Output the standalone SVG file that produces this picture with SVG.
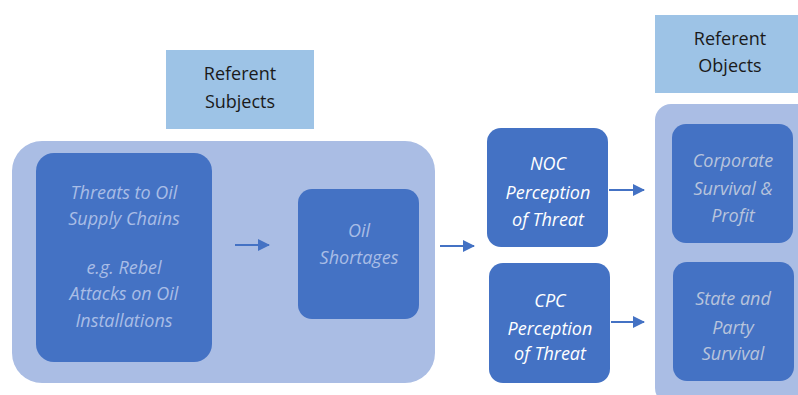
<svg xmlns="http://www.w3.org/2000/svg" width="798" height="395" viewBox="0 0 798 395">
  <defs>
    <marker id="arrow" markerWidth="12" markerHeight="12" refX="11" refY="6" orient="auto" markerUnits="userSpaceOnUse">
      <path d="M0,0 L12,6 L0,12 Z" fill="#4472c4"/>
    </marker>
    <style>
      .label { fill: #9dc3e6; }
      .group { fill: #aabde4; }
      .node { fill: #4472c4; }
      .t { font-family: "Open Sans", "Liberation Sans", sans-serif; font-size: 18px; text-anchor: middle; dominant-baseline: central; }
      .hdr { fill: #1a1a1a; }
      .it { font-style: italic; }
      .pale { fill: #a9bde6; }
      .white { fill: #ffffff; }
      .grey { fill: #b8c4dc; }
      .conn { stroke: #4472c4; stroke-width: 2; fill: none; marker-end: url(#arrow); }
    </style>
  </defs>

  <rect width="798" height="395" fill="#ffffff"/>

  <!-- Header labels -->
  <g id="referent-subjects">
    <rect class="label" x="166" y="50" width="148" height="79"/>
    <text class="t hdr" x="240" y="73">Referent</text>
    <text class="t hdr" x="240" y="101">Subjects</text>
  </g>
  <g id="referent-objects">
    <rect class="label" x="655" y="15" width="150" height="78"/>
    <text class="t hdr" x="730" y="38">Referent</text>
    <text class="t hdr" x="730" y="65">Objects</text>
  </g>

  <!-- Group containers -->
  <g id="subjects-group">
    <rect class="group" x="12" y="141" width="423" height="242" rx="30"/>
  </g>
  <g id="objects-group">
    <rect class="group" x="655" y="104" width="160" height="300" rx="16"/>
  </g>

  <!-- Nodes -->
  <g id="threats">
    <rect class="node" x="36" y="153" width="176" height="209" rx="18"/>
    <text class="t it pale" x="124" y="192">Threats to Oil</text>
    <text class="t it pale" x="124" y="218">Supply Chains</text>
    <text class="t it pale" x="124" y="267">e.g. Rebel</text>
    <text class="t it pale" x="124" y="293">Attacks on Oil</text>
    <text class="t it pale" x="124" y="320">Installations</text>
  </g>
  <g id="oil-shortages">
    <rect class="node" x="298" y="189" width="121" height="130" rx="14"/>
    <text class="t it pale" x="359" y="230">Oil</text>
    <text class="t it pale" x="359" y="257">Shortages</text>
  </g>
  <g id="noc">
    <rect class="node" x="487" y="128" width="121" height="119" rx="14"/>
    <text class="t it white" x="548" y="163">NOC</text>
    <text class="t it white" x="548" y="192">Perception</text>
    <text class="t it white" x="548" y="219">of Threat</text>
  </g>
  <g id="cpc">
    <rect class="node" x="489" y="263" width="121" height="120" rx="14"/>
    <text class="t it white" x="550" y="300">CPC</text>
    <text class="t it white" x="550" y="328">Perception</text>
    <text class="t it white" x="550" y="353">of Threat</text>
  </g>
  <g id="corporate">
    <rect class="node" x="672" y="124" width="121" height="119" rx="14"/>
    <text class="t it grey" x="733" y="160">Corporate</text>
    <text class="t it grey" x="733" y="188">Survival &amp;</text>
    <text class="t it grey" x="733" y="215">Profit</text>
  </g>
  <g id="state-party">
    <rect class="node" x="673" y="262" width="121" height="119" rx="14"/>
    <text class="t it grey" x="733" y="298">State and</text>
    <text class="t it grey" x="733" y="327">Party</text>
    <text class="t it grey" x="733" y="353">Survival</text>
  </g>

  <!-- Connectors -->
  <g id="connectors">
    <line class="conn" x1="235" y1="245" x2="269" y2="245"/>
    <line class="conn" x1="440" y1="246" x2="474" y2="246"/>
    <line class="conn" x1="609" y1="190" x2="644" y2="190"/>
    <line class="conn" x1="611" y1="322" x2="644" y2="322"/>
  </g>
</svg>
